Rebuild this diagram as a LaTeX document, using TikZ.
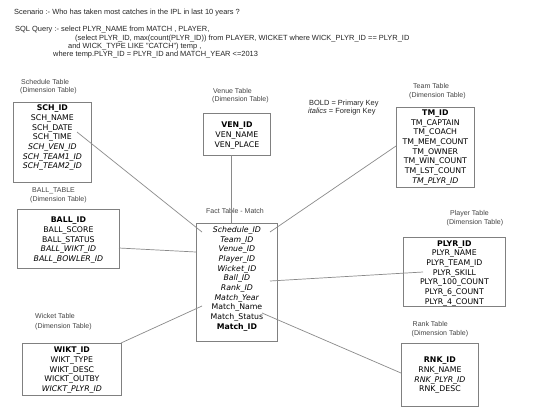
\documentclass[tikz,border=0pt]{standalone}
\usepackage{fontspec}
\setmainfont{Liberation Sans}
\newfontfamily\cf{DejaVu Sans}
\definecolor{boxgray}{HTML}{808080}
\definecolor{linegray}{HTML}{8A8A8A}
\definecolor{labgray}{HTML}{444444}
\newcommand{\tcontent}[4]{\begin{minipage}[t][#2pt][t]{#1pt}\centering\vspace*{#3pt}#4\end{minipage}}
\tikzset{
  tbl/.style={draw=boxgray, line width=0.8pt, inner sep=0pt, anchor=north west,
    font=\cf\fontsize{7.8}{9.7}\selectfont},
  lab/.style={anchor=west, inner sep=0pt, text height=5pt, text depth=1.5pt,
    text=labgray, font=\fontsize{7}{8}\selectfont},
  ttl/.style={anchor=west, inner sep=0pt, text height=5.2pt, text depth=1.5pt,
    text=black!85, font=\fontsize{7.45}{8}\selectfont},
  conn/.style={draw=linegray, line width=0.7pt}
}
\begin{document}
\begin{tikzpicture}[x=1pt,y=-1pt]
\useasboundingbox[fill=white] (0,0) rectangle (534,418);

% title and query
\node[ttl] (t1) at (14,13) {Scenario :- Who has taken most catches in the IPL in last 10 years ?};
\node[ttl] (t2) at (15,30) {SQL Query :- select PLYR\_NAME from MATCH , PLAYER,};
\node[ttl] (t3) at (75,39) {(select PLYR\_ID, max(count(PLYR\_ID)) from PLAYER, WICKET where WICK\_PLYR\_ID == PLYR\_ID};
\node[ttl] (t4) at (68,46.7) {and WICK\_TYPE LIKE "CATCH") temp ,};
\node[ttl] (t5) at (53,54.3) {where temp.PLYR\_ID = PLYR\_ID and MATCH\_YEAR <=2013};

% key
\node[ttl] (k1) at (309,104) {BOLD = Primary Key};
\node[ttl] (k2) at (308,112) {\textit{italics} = Foreign Key};

% labels
\node[lab] (l1a) at (21,83) {Schedule Table};
\node[lab] (l1b) at (20,91) {(Dimension Table)};
\node[lab] (l2a) at (213,92) {Venue Table};
\node[lab] (l2b) at (212,99.5) {(Dimension Table)};
\node[lab] (l3a) at (413,87) {Team Table};
\node[lab] (l3b) at (409,95.5) {(Dimension Table)};
\node[lab] (l4a) at (32,191) {BALL\_TABLE};
\node[lab] (l4b) at (30,199.5) {(Dimension Table)};
\node[lab, anchor=center] (l5) at (235,212) {Fact Table - Match};
\node[lab] (l6a) at (450,213.5) {Player Table};
\node[lab] (l6b) at (446.5,222.5) {(Dimension Table)};
\node[lab] (l7a) at (35,317) {Wicket Table};
\node[lab] (l7b) at (35,326.5) {(Dimension Table)};
\node[lab] (l8a) at (412.5,325) {Rank Table};
\node[lab] (l8b) at (411.5,334) {(Dimension Table)};

% tables
\node[tbl] (sch) at (13,102) {\tcontent{78}{80}{2.6}{\textbf{SCH\_ID}\\SCH\_NAME\\SCH\_DATE\\SCH\_TIME\\\textit{SCH\_VEN\_ID}\\\textit{SCH\_TEAM1\_ID}\\\textit{SCH\_TEAM2\_ID}}};
\node[tbl] (ven) at (203,113) {\tcontent{67}{42}{8.7}{\textbf{VEN\_ID}\\VEN\_NAME\\VEN\_PLACE}};
\node[tbl] (team) at (396,107) {\tcontent{78}{80}{2.3}{\textbf{TM\_ID}\\TM\_CAPTAIN\\TM\_COACH\\TM\_MEM\_COUNT\\TM\_OWNER\\TM\_WIN\_COUNT\\TM\_LST\_COUNT\\\textit{TM\_PLYR\_ID}}};
\node[tbl] (ball) at (17,209) {\tcontent{102}{59}{7.7}{\textbf{BALL\_ID}\\BALL\_SCORE\\BALL\_STATUS\\\textit{BALL\_WIKT\_ID}\\\textit{BALL\_BOWLER\_ID}}};
\node[tbl] (fact) at (196,223) {\tcontent{81}{118}{3}{\textit{Schedule\_ID}\\\textit{Team\_ID}\\\textit{Venue\_ID}\\\textit{Player\_ID}\\\textit{Wicket\_ID}\\\textit{Ball\_ID}\\\textit{Rank\_ID}\\\textit{Match\_Year}\\Match\_Name\\Match\_Status\\\textbf{Match\_ID}}};
\node[tbl] (plyr) at (403,237) {\tcontent{102}{69}{3}{\textbf{PLYR\_ID}\\PLYR\_NAME\\PLYR\_TEAM\_ID\\PLYR\_SKILL\\PLYR\_100\_COUNT\\PLYR\_6\_COUNT\\PLYR\_4\_COUNT}};
\node[tbl] (wkt) at (22,343) {\tcontent{99}{52}{3.7}{\textbf{WIKT\_ID}\\WIKT\_TYPE\\WIKT\_DESC\\WICKT\_OUTBY\\\textit{WICKT\_PLYR\_ID}}};
\node[tbl] (rnk) at (401,343) {\tcontent{77}{63}{13.7}{\textbf{RNK\_ID}\\RNK\_NAME\\\textit{RNK\_PLYR\_ID}\\RNK\_DESC}};

% connector end points
\coordinate (cs) at (77,132);
\coordinate (fs) at (202,232);
\coordinate (cv) at (231,155);
\coordinate (fv) at (231,223);
\coordinate (ct) at (396,146);
\coordinate (ft) at (270,232);
\coordinate (cb) at (119,248);
\coordinate (fb) at (196,252);
\coordinate (cp) at (423,272);
\coordinate (fp) at (270,281);
\coordinate (cw) at (121,343);
\coordinate (fw) at (202,306);
\coordinate (cr) at (401,373);
\coordinate (fr) at (262,313);

\draw[conn] (cs) -- (fs);
\draw[conn] (cv) -- (fv);
\draw[conn] (ct) -- (ft);
\draw[conn] (cb) -- (fb);
\draw[conn] (cp) -- (fp);
\draw[conn] (cw) -- (fw);
\draw[conn] (cr) -- (fr);
\end{tikzpicture}
\end{document}
